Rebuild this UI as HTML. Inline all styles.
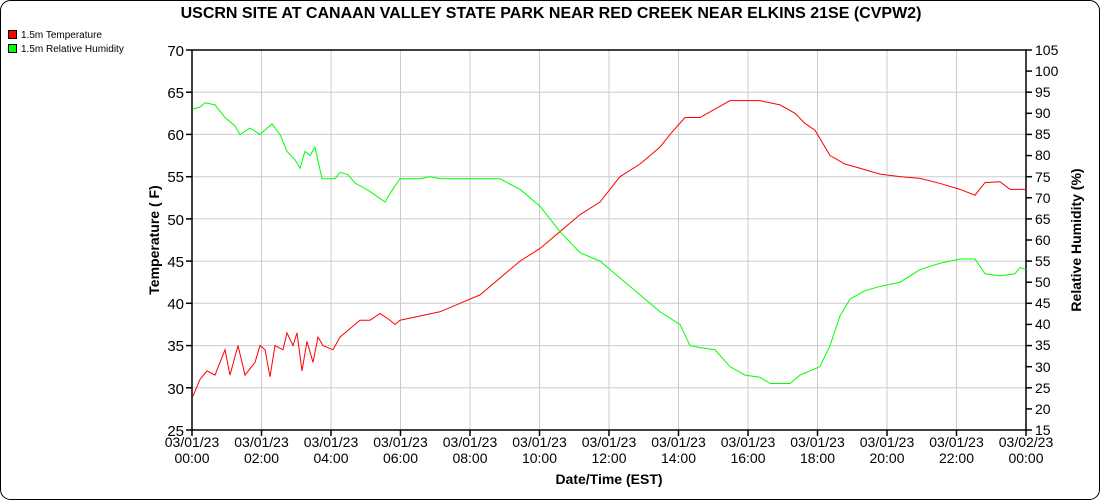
<!DOCTYPE html>
<html><head><meta charset="utf-8"><style>
body{margin:0;background:#fff}
svg{display:block;font-family:"Liberation Sans",sans-serif}
</style></head><body>
<svg width="1100" height="500" viewBox="0 0 1100 500">
<rect x="0.5" y="0.5" width="1099" height="499" rx="10" fill="#fff" stroke="#000"/>
<text x="551" y="18" font-size="16" font-weight="bold" text-anchor="middle">USCRN SITE AT CANAAN VALLEY STATE PARK NEAR RED CREEK NEAR ELKINS 21SE (CVPW2)</text>
<rect x="8.5" y="30.5" width="8" height="8" fill="#f00" stroke="#000"/>
<text x="21" y="38" font-size="10">1.5m Temperature</text>
<rect x="8.5" y="44.5" width="8" height="8" fill="#0f0" stroke="#000"/>
<text x="21" y="52" font-size="10">1.5m Relative Humidity</text>
<g stroke="#ccc" stroke-width="1">
<line x1="192" x2="1026" y1="92.2" y2="92.2"/><line x1="192" x2="1026" y1="134.4" y2="134.4"/><line x1="192" x2="1026" y1="176.7" y2="176.7"/><line x1="192" x2="1026" y1="218.9" y2="218.9"/><line x1="192" x2="1026" y1="261.1" y2="261.1"/><line x1="192" x2="1026" y1="303.3" y2="303.3"/><line x1="192" x2="1026" y1="345.6" y2="345.6"/><line x1="192" x2="1026" y1="387.8" y2="387.8"/>
<line y1="50" y2="430" x1="261.5" x2="261.5"/><line y1="50" y2="430" x1="331" x2="331"/><line y1="50" y2="430" x1="400.5" x2="400.5"/><line y1="50" y2="430" x1="470" x2="470"/><line y1="50" y2="430" x1="539.5" x2="539.5"/><line y1="50" y2="430" x1="609" x2="609"/><line y1="50" y2="430" x1="678.5" x2="678.5"/><line y1="50" y2="430" x1="748" x2="748"/><line y1="50" y2="430" x1="817.5" x2="817.5"/><line y1="50" y2="430" x1="887" x2="887"/><line y1="50" y2="430" x1="956.5" x2="956.5"/>
</g>
<rect x="192" y="50" width="834" height="380" fill="none" stroke="#000" stroke-width="1.5"/>
<g stroke="#000" stroke-width="1.5">
<line x1="186" x2="192" y1="50" y2="50"/><line x1="186" x2="192" y1="92.2" y2="92.2"/><line x1="186" x2="192" y1="134.4" y2="134.4"/><line x1="186" x2="192" y1="176.7" y2="176.7"/><line x1="186" x2="192" y1="218.9" y2="218.9"/><line x1="186" x2="192" y1="261.1" y2="261.1"/><line x1="186" x2="192" y1="303.3" y2="303.3"/><line x1="186" x2="192" y1="345.6" y2="345.6"/><line x1="186" x2="192" y1="387.8" y2="387.8"/><line x1="186" x2="192" y1="430" y2="430"/>
<line y1="430" y2="436" x1="192" x2="192"/><line y1="430" y2="436" x1="261.5" x2="261.5"/><line y1="430" y2="436" x1="331" x2="331"/><line y1="430" y2="436" x1="400.5" x2="400.5"/><line y1="430" y2="436" x1="470" x2="470"/><line y1="430" y2="436" x1="539.5" x2="539.5"/><line y1="430" y2="436" x1="609" x2="609"/><line y1="430" y2="436" x1="678.5" x2="678.5"/><line y1="430" y2="436" x1="748" x2="748"/><line y1="430" y2="436" x1="817.5" x2="817.5"/><line y1="430" y2="436" x1="887" x2="887"/><line y1="430" y2="436" x1="956.5" x2="956.5"/><line y1="430" y2="436" x1="1026" x2="1026"/>
<line x1="1026" x2="1032" y1="50" y2="50"/><line x1="1026" x2="1032" y1="71.1" y2="71.1"/><line x1="1026" x2="1032" y1="92.2" y2="92.2"/><line x1="1026" x2="1032" y1="113.3" y2="113.3"/><line x1="1026" x2="1032" y1="134.4" y2="134.4"/><line x1="1026" x2="1032" y1="155.6" y2="155.6"/><line x1="1026" x2="1032" y1="176.7" y2="176.7"/><line x1="1026" x2="1032" y1="197.8" y2="197.8"/><line x1="1026" x2="1032" y1="218.9" y2="218.9"/><line x1="1026" x2="1032" y1="240" y2="240"/><line x1="1026" x2="1032" y1="261.1" y2="261.1"/><line x1="1026" x2="1032" y1="282.2" y2="282.2"/><line x1="1026" x2="1032" y1="303.3" y2="303.3"/><line x1="1026" x2="1032" y1="324.4" y2="324.4"/><line x1="1026" x2="1032" y1="345.6" y2="345.6"/><line x1="1026" x2="1032" y1="366.7" y2="366.7"/><line x1="1026" x2="1032" y1="387.8" y2="387.8"/><line x1="1026" x2="1032" y1="408.9" y2="408.9"/><line x1="1026" x2="1032" y1="430" y2="430"/>
</g>
<g font-size="15" text-anchor="end">
<text x="184" y="56">70</text><text x="184" y="98">65</text><text x="184" y="140">60</text><text x="184" y="182">55</text><text x="184" y="225">50</text><text x="184" y="267">45</text><text x="184" y="309">40</text><text x="184" y="351">35</text><text x="184" y="394">30</text><text x="184" y="436">25</text>
</g>
<g font-size="14" text-anchor="start">
<text x="1035" y="55">105</text><text x="1035" y="76">100</text><text x="1035" y="97">95</text><text x="1035" y="118">90</text><text x="1035" y="139">85</text><text x="1035" y="160">80</text><text x="1035" y="182">75</text><text x="1035" y="203">70</text><text x="1035" y="224">65</text><text x="1035" y="245">60</text><text x="1035" y="266">55</text><text x="1035" y="287">50</text><text x="1035" y="308">45</text><text x="1035" y="329">40</text><text x="1035" y="350">35</text><text x="1035" y="372">30</text><text x="1035" y="393">25</text><text x="1035" y="414">20</text><text x="1035" y="435">15</text>
</g>
<g font-size="14" text-anchor="middle">
<text x="192" y="447">03/01/23</text><text x="192" y="463">00:00</text>
<text x="261.5" y="447">03/01/23</text><text x="261.5" y="463">02:00</text>
<text x="331" y="447">03/01/23</text><text x="331" y="463">04:00</text>
<text x="400.5" y="447">03/01/23</text><text x="400.5" y="463">06:00</text>
<text x="470" y="447">03/01/23</text><text x="470" y="463">08:00</text>
<text x="539.5" y="447">03/01/23</text><text x="539.5" y="463">10:00</text>
<text x="609" y="447">03/01/23</text><text x="609" y="463">12:00</text>
<text x="678.5" y="447">03/01/23</text><text x="678.5" y="463">14:00</text>
<text x="748" y="447">03/01/23</text><text x="748" y="463">16:00</text>
<text x="817.5" y="447">03/01/23</text><text x="817.5" y="463">18:00</text>
<text x="887" y="447">03/01/23</text><text x="887" y="463">20:00</text>
<text x="956.5" y="447">03/01/23</text><text x="956.5" y="463">22:00</text>
<text x="1026" y="447">03/02/23</text><text x="1026" y="463">00:00</text>
</g>
<text x="609" y="484" font-size="14" font-weight="bold" text-anchor="middle">Date/Time (EST)</text>
<text transform="translate(159,240) rotate(-90)" font-size="14" font-weight="bold" text-anchor="middle">Temperature ( F)</text>
<text transform="translate(1081,240) rotate(-90)" font-size="14" font-weight="bold" text-anchor="middle">Relative Humidity (%)</text>
<g transform="matrix(1,0,0,-8.4444,0,641.11)">
<polyline fill="none" stroke="#f00" stroke-width="1" vector-effect="non-scaling-stroke" points="193,29 200,31 207,32 215,31.5 220,33 225,34.5 230,31.5 238,35 245,31.5 255,33 260,35 265,34.5 270,31.3 275,35 283,34.5 287,36.5 293,35 297,36.5 302,32 307,35.5 313,33 318,36 323,35 333,34.5 340,36 350,37 360,38 370,38 380,38.8 390,38 395,37.5 400,38 420,38.5 440,39 460,40 480,41 500,43 520,45 540,46.5 560,48.5 580,50.5 600,52 610,53.5 620,55 640,56.5 660,58.5 670,60 685,62 700,62 715,63 730,64 745,64 760,64 780,63.5 795,62.5 805,61.3 815,60.5 830,57.5 845,56.5 860,56 880,55.3 900,55 920,54.8 940,54.2 960,53.5 975,52.8 985,54.3 1000,54.4 1010,53.5 1026,53.5"/>
</g>
<g transform="matrix(1,0,0,-4.2222,0,493.33)">
<polyline fill="none" stroke="#0f0" stroke-width="1" vector-effect="non-scaling-stroke" points="193,91 200,91.5 205,92.5 215,92 225,89 235,87 240,85 250,86.5 260,85 272,87.5 280,85 287,81 295,79 300,77 305,81 310,80 315,82 322,74.5 335,74.5 340,76 348,75.5 355,73.5 370,71.5 385,69 390,71 400,74.5 420,74.5 430,75 440,74.5 470,74.5 500,74.5 520,72 540,68 560,62 580,57 600,55 620,51 640,47 660,43 680,40 690,35 700,34.5 715,34 730,30 745,28 760,27.5 770,26 790,26 800,28 820,30 830,35 840,42 850,46 865,48 880,49 900,50 920,53 940,54.5 960,55.5 975,55.5 985,52 1000,51.5 1015,52 1020,53.5 1026,53"/>
</g>
</svg>
</body></html>
